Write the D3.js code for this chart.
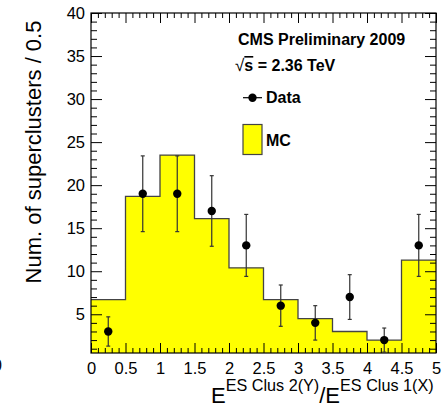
<!DOCTYPE html>
<html>
<head>
<meta charset="utf-8">
<script src="https://cdn.jsdelivr.net/npm/d3@7"></script>
<style>
  body { margin: 0; background: #fff; }
  svg { display: block; font-family: "Liberation Sans", Arial, Helvetica, sans-serif; }
</style>
</head>
<body>
<div id="chart"></div>
<script>
// bin edges (lower edge of each 0.5 wide bin)
var binEdges = [0, 0.5, 1, 1.5, 2, 2.5, 3, 3.5, 4, 4.5]
var binWidth = 0.5
// MC histogram (normalised)
var mcValues = [6.7, 18.7, 23.5, 16.1, 10.4, 6.7, 4.5, 3.0, 2.0, 11.3]
// data points at bin centres
var dataValues = [3, 19, 19, 17, 13, 6, 4, 7, 2, 13]
var dataErrors = [1.7, 4.4, 4.4, 4.1, 3.6, 2.4, 2.0, 2.6, 1.4, 3.6]

var xTicks = [0, 0.5, 1, 1.5, 2, 2.5, 3, 3.5, 4, 4.5, 5]
var yTicks = [5, 10, 15, 20, 25, 30, 35, 40]

var width = 442, height = 407
var margin = { top: 13, right: 6, bottom: 54, left: 91 }
var plotW = width - margin.left - margin.right,
    plotH = height - margin.top - margin.bottom

var svg = d3.select("#chart").append("svg")
    .attr("width", width)
    .attr("height", height)

var x = d3.scaleLinear().domain([0, 5]).range([margin.left, margin.left + plotW])
var y = d3.scaleLinear().domain([0.5, 40]).range([margin.top + plotH, margin.top])

// histogram points for a step curve
var steps = binEdges.map(function (e, i) { return [e, mcValues[i]] })
steps.push([5, mcValues[mcValues.length - 1]])

svg.append("path")
    .datum(steps)
    .attr("fill", "#ffff00")
    .attr("d", d3.area()
        .curve(d3.curveStepAfter)
        .x(function (d) { return x(d[0]) })
        .y0(y(0.5))
        .y1(function (d) { return y(d[1]) }))

svg.append("path")
    .datum(steps)
    .attr("fill", "none")
    .attr("stroke", "#444")
    .attr("stroke-width", 1.3)
    .attr("d", d3.line()
        .curve(d3.curveStepAfter)
        .x(function (d) { return x(d[0]) })
        .y(function (d) { return y(d[1]) }))

// minor ticks
var xMinor = d3.range(0, 50.5, 1).map(function (v) { return v / 10 })
    .filter(function (v) { return Math.round(v * 10) % 5 != 0 })
var yMinor = d3.range(1, 41).filter(function (v) { return v % 5 != 0 })

function tickAxis(axis, scale, ticks, size) {
    return axis(scale).tickValues(ticks).tickSizeInner(size).tickSizeOuter(0)
}

// bottom
svg.append("g")
    .attr("transform", "translate(0," + y(0.5) + ")")
    .call(tickAxis(d3.axisBottom, x, xTicks, -10).tickPadding(9).tickFormat(d3.format("")))
svg.append("g")
    .attr("transform", "translate(0," + y(0.5) + ")")
    .call(tickAxis(d3.axisBottom, x, xMinor, -5).tickFormat(""))
// top
svg.append("g")
    .attr("transform", "translate(0," + y(40) + ")")
    .call(tickAxis(d3.axisTop, x, xTicks, -10).tickFormat(""))
svg.append("g")
    .attr("transform", "translate(0," + y(40) + ")")
    .call(tickAxis(d3.axisTop, x, xMinor, -5).tickFormat(""))
// left
svg.append("g")
    .attr("transform", "translate(" + x(0) + ",0)")
    .call(tickAxis(d3.axisLeft, y, yTicks, -11).tickPadding(6))
svg.append("g")
    .attr("transform", "translate(" + x(0) + ",0)")
    .call(tickAxis(d3.axisLeft, y, yMinor, -6).tickFormat(""))
// right
svg.append("g")
    .attr("transform", "translate(" + x(5) + ",0)")
    .call(tickAxis(d3.axisRight, y, yTicks, -11).tickFormat(""))
svg.append("g")
    .attr("transform", "translate(" + x(5) + ",0)")
    .call(tickAxis(d3.axisRight, y, yMinor, -6).tickFormat(""))

svg.selectAll(".domain").remove()
svg.selectAll(".tick line").attr("stroke", "#000")
svg.selectAll(".tick text")
    .attr("fill", "#000")
    .style("font-size", "16.5px")

// frame
svg.append("rect")
    .attr("x", x(0)).attr("y", y(40))
    .attr("width", x(5) - x(0)).attr("height", y(0.5) - y(40))
    .attr("fill", "none").attr("stroke", "#000").attr("stroke-width", 1.2)

// data points with error bars
var pts = svg.append("g")
    .selectAll("g")
    .data(dataValues)
    .enter().append("g")

pts.each(function (d, i) {
    var g = d3.select(this)
    var cx = x(binEdges[i] + binWidth / 2)
    var lo = d - dataErrors[i], hi = d + dataErrors[i]
    g.append("line")
        .attr("x1", cx).attr("x2", cx)
        .attr("y1", y(Math.max(0.5, lo))).attr("y2", y(hi))
        .attr("stroke", "#333").attr("stroke-width", 1.2)
    g.append("line")
        .attr("x1", cx - 2).attr("x2", cx + 2)
        .attr("y1", y(hi)).attr("y2", y(hi))
        .attr("stroke", "#333").attr("stroke-width", 1.2)
    if (lo > 0.5) {
        g.append("line")
            .attr("x1", cx - 2).attr("x2", cx + 2)
            .attr("y1", y(lo)).attr("y2", y(lo))
            .attr("stroke", "#333").attr("stroke-width", 1.2)
    }
    g.append("circle")
        .attr("cx", cx).attr("cy", y(d))
        .attr("r", 4.2).attr("fill", "#000")
})

// legend
var leg = svg.append("g").style("font-weight", "bold").style("font-size", "16px")
leg.append("text").attr("x", 238).attr("y", 45).text("CMS Preliminary 2009")
var sq = leg.append("text").attr("x", 235).attr("y", 71)
sq.append("tspan").style("font-weight", "normal").style("font-size", "17px").text("\u221A")
sq.append("tspan").style("text-decoration", "overline").text("s")
sq.append("tspan").text(" = 2.36 TeV")

leg.append("line").attr("x1", 243).attr("x2", 262).attr("y1", 97.7).attr("y2", 97.7)
    .attr("stroke", "#000").attr("stroke-width", 1.2)
leg.append("circle").attr("cx", 252.5).attr("cy", 97.7).attr("r", 4.2).attr("fill", "#000")
leg.append("text").attr("x", 266).attr("y", 103).text("Data")

leg.append("rect").attr("x", 243).attr("y", 124.5).attr("width", 19).attr("height", 30)
    .attr("fill", "#ffff00").attr("stroke", "#444").attr("stroke-width", 1.2)
leg.append("text").attr("x", 266).attr("y", 146).text("MC")

// axis titles
svg.append("text")
    .attr("transform", "translate(41,152) rotate(-90)")
    .attr("text-anchor", "middle")
    .style("font-size", "22px")
    .text("Num. of superclusters / 0.5")

var xt = svg.append("text").attr("x", 211).attr("y", 403)
xt.append("tspan").style("font-size", "22px").text("E")
xt.append("tspan").attr("dy", -12).style("font-size", "16.2px").text("ES Clus 2(Y)")
xt.append("tspan").attr("dy", 12).style("font-size", "22px").text("/E")
xt.append("tspan").attr("dy", -12).style("font-size", "16.2px").text("ES Clus 1(X)")

// clipped label on the left edge
svg.append("text").attr("x", 2).attr("y", 371).attr("text-anchor", "end")
    .style("font-size", "16px").text("0")
</script>
</body>
</html>
